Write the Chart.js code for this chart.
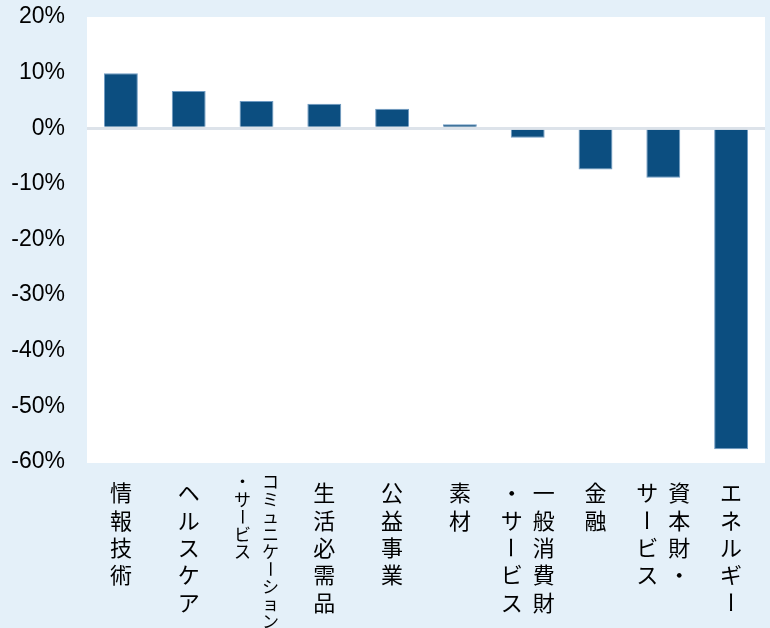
<!DOCTYPE html>
<html>
<head>
<meta charset="utf-8">
<script src="https://cdn.jsdelivr.net/npm/chart.js@4.4.1/dist/chart.umd.min.js"></script>
<style>
  html, body { margin: 0; padding: 0; background: #e4f0f9; }
  #wrap { width: 770px; height: 628px; position: relative; }
</style>
</head>
<body>
<div id="wrap"><canvas id="c" width="770" height="628"></canvas></div>
<script>
// Categories (each entry = vertical text columns, right-most column first)
const categories = [
  ['情報技術'],
  ['ヘルスケア'],
  ['コミュニケーション', '・サービス'],
  ['生活必需品'],
  ['公益事業'],
  ['素材'],
  ['一般消費財', '・サービス'],
  ['金融'],
  ['資本財・', 'サービス'],
  ['エネルギー']
];
// Series values (%)
const values = [9.9, 6.7, 4.9, 4.4, 3.5, 0.7, -1.7, -7.4, -8.9, -57.7];
// Y-axis tick range
const yMin = -60, yMax = 20, yStep = 10;

const bgPlugin = {
  id: 'bgPlugin',
  beforeDraw(chart) {
    const { ctx, chartArea: a } = chart;
    ctx.save();
    ctx.fillStyle = '#e4f0f9';
    ctx.fillRect(0, 0, chart.width, chart.height);
    ctx.fillStyle = '#ffffff';
    ctx.fillRect(a.left, a.top, a.right - a.left, a.bottom - a.top + 1);
    ctx.restore();
  }
};

const verticalLabels = {
  id: 'verticalLabels',
  afterDraw(chart) {
    const sx = chart.scales.x;
    const ctx = chart.ctx;
    ctx.save();
    ctx.fillStyle = '#000000';
    ctx.textAlign = 'center';
    ctx.textBaseline = 'middle';
    chart.data.labels.forEach((cols, i) => {
      const x = sx.getPixelForTick(i);
      const compact = cols.some(c => c.length > 6);
      const size = compact ? 17 : 22;
      const pitch = compact ? 17.4 : 27.3;
      const gap = compact ? 28 : 32;
      const y0 = sx.top + (compact ? 20 : 31);
      ctx.font = size + 'px "Noto Sans CJK JP", sans-serif';
      const n = cols.length;
      cols.forEach((col, c) => {
        const cx = x + ((n - 1) / 2 - c) * gap;
        Array.from(col).forEach((ch, r) => {
          const cy = y0 + r * pitch;
          if (ch === 'ー') {
            ctx.save();
            ctx.translate(cx, cy);
            ctx.rotate(Math.PI / 2);
            ctx.fillText(ch, 0, 0);
            ctx.restore();
          } else {
            ctx.fillText(ch, cx, cy);
          }
        });
      });
    });
    ctx.restore();
  }
};

new Chart(document.getElementById('c'), {
  type: 'bar',
  data: {
    labels: categories,
    datasets: [{
      data: values,
      backgroundColor: '#0c4e80',
      borderColor: '#6f9bc3',
      borderWidth: 1,
      barPercentage: 0.5,
      categoryPercentage: 1.0
    }]
  },
  options: {
    responsive: false,
    animation: false,
    devicePixelRatio: 1,
    layout: { padding: { top: 17, right: 5, left: 0, bottom: 0 } },
    plugins: { legend: { display: false }, tooltip: { enabled: false } },
    scales: {
      x: {
        grid: { display: false },
        border: { display: false },
        ticks: { display: false },
        afterFit(s) { s.height = 166; s.paddingLeft = 0; s.paddingRight = 0; }
      },
      y: {
        min: yMin,
        max: yMax,
        z: 1,
        border: { display: false },
        grid: {
          drawTicks: false,
          color: ctx => (ctx.tick && ctx.tick.value === 0 ? '#dde3ea' : 'rgba(0,0,0,0)'),
          lineWidth: ctx => (ctx.tick && ctx.tick.value === 0 ? 3 : 0)
        },
        ticks: {
          stepSize: yStep,
          padding: 22,
          color: '#000000',
          font: { family: '"Liberation Sans", Arial, sans-serif', size: 23 },
          callback: v => v + '%'
        },
        afterFit(s) { s.width = 87; s.paddingTop = 0; s.paddingBottom = 0; }
      }
    }
  },
  plugins: [bgPlugin, verticalLabels]
});
</script>
</body>
</html>
